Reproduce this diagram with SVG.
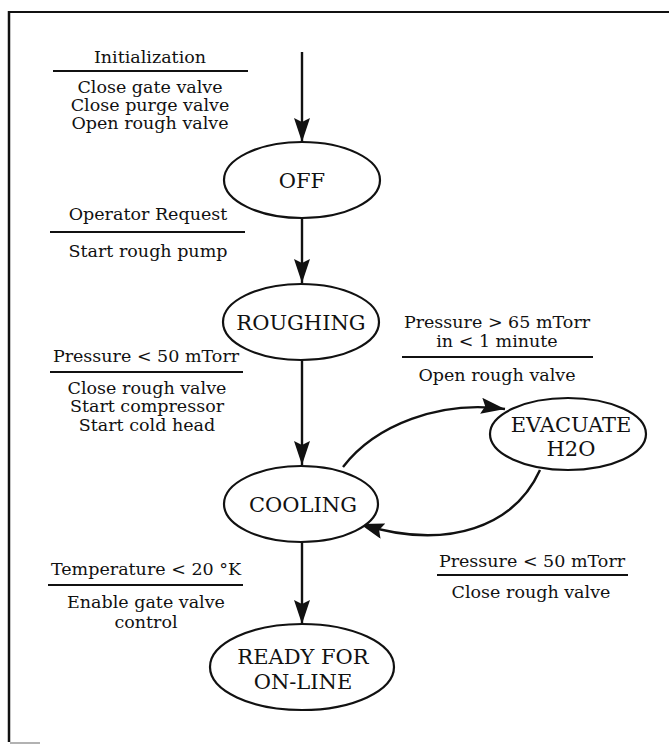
<svg xmlns="http://www.w3.org/2000/svg" width="669" height="744" viewBox="0 0 669 744">
<style>
.lbl{font-family:"DejaVu Serif","Liberation Serif",serif;font-size:17.5px;fill:#111;text-anchor:middle}
.nd{font-family:"DejaVu Serif","Liberation Serif",serif;font-size:21px;fill:#111;text-anchor:middle}
.st{fill:#fff;stroke:#111;stroke-width:2.2}
.cn{fill:none;stroke:#111;stroke-width:2.4}
.ul{stroke:#111;stroke-width:1.8}
</style>
<defs>
<marker id="ah" markerUnits="userSpaceOnUse" markerWidth="26" markerHeight="18" refX="24" refY="8" orient="auto">
<path d="M0,0 L24,8 L0,16 L4,8 z" fill="#111"/>
</marker>
</defs>
<rect width="669" height="744" fill="#fff"/>
<g id="frame">
<line x1="9" y1="12" x2="669" y2="12" stroke="#111" stroke-width="2"/>
<line x1="9" y1="11" x2="9" y2="742" stroke="#111" stroke-width="2.5"/>
<line x1="10" y1="743" x2="40" y2="743" stroke="#999" stroke-width="1.5"/>
</g>
<g id="connectors">
<line class="cn" x1="302" y1="52" x2="302" y2="142" marker-end="url(#ah)"/>
<line class="cn" x1="302" y1="218" x2="302" y2="283" marker-end="url(#ah)"/>
<line class="cn" x1="302" y1="360" x2="302" y2="465" marker-end="url(#ah)"/>
<line class="cn" x1="302" y1="542" x2="302" y2="624" marker-end="url(#ah)"/>
<path class="cn" d="M343,467 C375,425 440,400 505,409" marker-end="url(#ah)"/>
<path class="cn" d="M540,470 C515,525 450,552 360,524" marker-end="url(#ah)"/>
</g>
<g id="labels">
<text class="lbl" x="150" y="63">Initialization</text>
<line class="ul" x1="53" y1="71" x2="248" y2="71"/>
<text class="lbl" x="150" y="93">Close gate valve</text>
<text class="lbl" x="150" y="111">Close purge valve</text>
<text class="lbl" x="150" y="129">Open rough valve</text>

<text class="lbl" x="148" y="220">Operator Request</text>
<line class="ul" x1="50" y1="232" x2="245" y2="232"/>
<text class="lbl" x="148" y="257">Start rough pump</text>

<text class="lbl" x="146" y="362">Pressure &lt; 50 mTorr</text>
<line class="ul" x1="50" y1="372" x2="243" y2="372"/>
<text class="lbl" x="147" y="394">Close rough valve</text>
<text class="lbl" x="147" y="412">Start compressor</text>
<text class="lbl" x="147" y="431">Start cold head</text>

<text class="lbl" x="146" y="575">Temperature &lt; 20 °K</text>
<line class="ul" x1="48" y1="585" x2="243" y2="585"/>
<text class="lbl" x="146" y="608">Enable gate valve</text>
<text class="lbl" x="146" y="628">control</text>

<text class="lbl" x="497" y="328">Pressure &gt; 65 mTorr</text>
<text class="lbl" x="497" y="347">in &lt; 1 minute</text>
<line class="ul" x1="402" y1="357" x2="593" y2="357"/>
<text class="lbl" x="497" y="381">Open rough valve</text>

<text class="lbl" x="532" y="567">Pressure &lt; 50 mTorr</text>
<line class="ul" x1="437" y1="575" x2="628" y2="575"/>
<text class="lbl" x="531" y="598">Close rough valve</text>
</g>
<g id="off">
<ellipse class="st" cx="302" cy="180" rx="78" ry="38"/>
<text class="nd" x="302" y="188">OFF</text>
</g>
<g id="roughing">
<ellipse class="st" cx="301" cy="322" rx="78" ry="38"/>
<text class="nd" x="301" y="330">ROUGHING</text>
</g>
<g id="cooling">
<ellipse class="st" cx="301" cy="504" rx="77" ry="38"/>
<text class="nd" x="303" y="512">COOLING</text>
</g>
<g id="evacuate">
<ellipse class="st" cx="568" cy="434" rx="78" ry="36"/>
<text class="nd" x="571" y="432">EVACUATE</text>
<text class="nd" x="571" y="456">H2O</text>
</g>
<g id="ready">
<ellipse class="st" cx="302" cy="667" rx="92" ry="43"/>
<text class="nd" x="303" y="664">READY FOR</text>
<text class="nd" x="303" y="689">ON-LINE</text>
</g>
</svg>
